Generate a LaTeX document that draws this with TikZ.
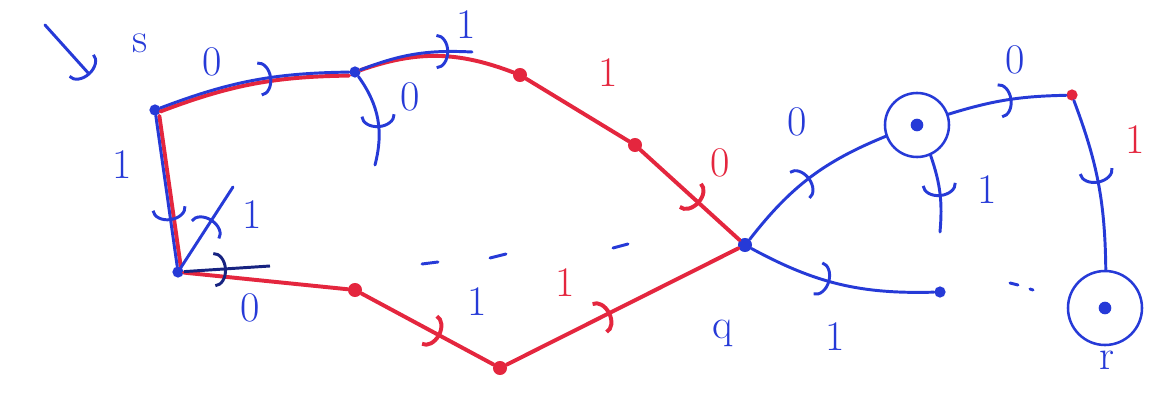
\documentclass[tikz,border=0pt]{standalone}
\usepackage{xcolor}
\usepackage{tikz}
\usetikzlibrary{arrows.meta,decorations.markings}
\definecolor{penblue}{RGB}{38,58,215}
\definecolor{penred}{RGB}{228,38,62}

\begin{document}
\begin{tikzpicture}[x=0.025cm,y=-0.025cm,>=Latex,font=\fontsize{30}{32}\selectfont]
  \tikzstyle{blueline}=[draw=penblue,line width=2.1pt,line cap=round]
  \tikzstyle{redline}=[draw=penred,line width=2.8pt,line cap=round]
  \tikzstyle{dot}=[circle,fill=penblue,inner sep=0pt,minimum size=8pt]
  \tikzstyle{rdot}=[circle,fill=penred,inner sep=0pt,minimum size=10pt]
  \tikzstyle{accept}=[circle,draw=penblue,line width=1.8pt,inner sep=0pt,
    path picture={\fill[penblue] (path picture bounding box.center) circle (4.5pt);}]
  \tikzstyle{marrow}=[postaction={decorate},decoration={markings,
    mark=at position #1 with {\arrow{Arc Barb[length=9pt,width=25pt]}}}]
  \tikzstyle{lab}=[text=penblue,inner sep=0pt]
  \tikzstyle{rlab}=[text=penred,inner sep=0pt]
  \useasboundingbox (0,0) rectangle (1160,394);

  % states
  \node[dot] (s) at (155,110) {};
  \node[dot] (a) at (355,72) {};
  \node[rdot] (b) at (520,75) {};
  \node[rdot] (c) at (635,145) {};
  \node[dot,minimum size=10pt] (q) at (745,245) {};
  \node[dot] (d) at (178,272) {};
  \node[rdot] (e) at (355,290) {};
  \node[rdot] (f) at (500,368) {};
  \node[accept,minimum size=1.6cm] (g) at (917,125) {};
  \node[rdot,minimum size=8pt] (h) at (1072,95) {};
  \node[accept,minimum size=1.85cm] (r) at (1105,308) {};
  \node[dot] (i) at (940,292) {};

  % loose ends
  \coordinate (st0) at (45,25);
  \coordinate (st1) at (90,75);
  \coordinate (ad) at (375,165);
  \coordinate (ab) at (472,52);
  \coordinate (du) at (233,187);
  \coordinate (gd) at (940,232);

  % red path
  \draw[redline,transform canvas={yshift=-2.5pt}] (s) to[bend left=10] (a);
  \draw[redline] (a) to[bend left=20] (b);
  \draw[redline] (b) -- (c);
  \draw[redline,marrow=0.6] (c) -- (q);
  \draw[redline,transform canvas={xshift=2.5pt}] (s) -- (d);
  \draw[redline] (d) -- (e);
  \draw[redline,marrow=0.6] (e) -- (f);
  \draw[redline,marrow=0.45] (f) -- (q);

  % blue transitions
  \draw[blueline,-{Arc Barb[length=9pt,width=25pt]}] (st0) -- (st1);
  \draw[blueline,marrow=0.6] (s) to[bend left=10] (a);
  \draw[blueline,marrow=0.6] (a) to[bend left=25] (ad);
  \draw[blueline,marrow=0.8] (a) to[bend left=12] (ab);
  \draw[blueline,marrow=0.7] (s) -- (d);
  \draw[blueline,marrow=0.6] (d) -- (du);
  \draw[draw=penblue!60!black,line width=2.1pt,marrow=0.5] (d) -- (270,266);
  \draw[blueline,marrow=0.5] (q) to[bend left=15] (g);
  \draw[blueline,marrow=0.55] (g) to[bend left=12] (gd);
  \draw[blueline,marrow=0.55] (g) to[bend left=8] (h);
  \draw[blueline,marrow=0.5] (h) to[bend left=10] (r);
  \draw[blueline,marrow=0.45] (q) to[bend right=15] (i);

  % stray marks
  \draw[blueline] (422,264) -- (438,262);
  \draw[blueline] (490,258) -- (506,254);
  \draw[blueline] (613,248) -- (628,244);
  \draw[blueline] (1010,283) -- (1018,285);
  \draw[blueline] (1030,289) -- (1033,290);

  % labels
  \node[lab] (ls) at (140,43) {s};
  \node[lab] (lq) at (723,333) {q};
  \node[lab] (lr) at (1107,360) {r};
  \node[lab] (l1) at (212,62) {0};
  \node[lab] (l2) at (410,97) {0};
  \node[lab] (l3) at (466,25) {1};
  \node[rlab] (l4) at (608,73) {1};
  \node[rlab] (l5) at (720,163) {0};
  \node[lab] (l6) at (122,165) {1};
  \node[lab] (l7) at (252,215) {1};
  \node[lab] (l8) at (250,308) {0};
  \node[lab] (l9) at (477,302) {1};
  \node[rlab] (l10) at (565,283) {1};
  \node[lab] (l11) at (797,122) {0};
  \node[lab] (l12) at (987,190) {1};
  \node[lab] (l13) at (1015,60) {0};
  \node[rlab] (l14) at (1135,140) {1};
  \node[lab] (l15) at (835,337) {1};
\end{tikzpicture}
\end{document}
